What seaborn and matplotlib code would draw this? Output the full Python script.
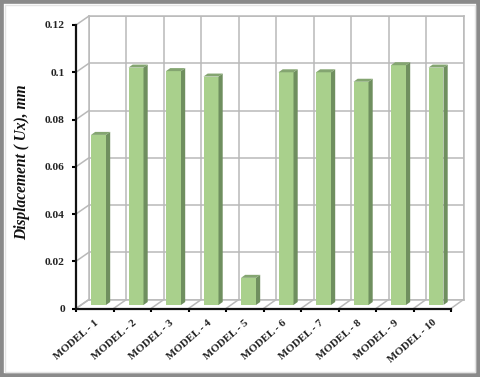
import matplotlib
matplotlib.use("Agg")
import matplotlib.pyplot as plt
from matplotlib.patches import Polygon, Rectangle
from matplotlib.lines import Line2D
from matplotlib.transforms import IdentityTransform
import seaborn as sns
import pandas as pd

models = ["MODEL - 1", "MODEL - 2", "MODEL - 3", "MODEL - 4", "MODEL - 5",
          "MODEL - 6", "MODEL - 7", "MODEL - 8", "MODEL - 9", "MODEL - 10"]
displacement = [0.072, 0.1005, 0.0990, 0.0967, 0.0115,
                0.0985, 0.0985, 0.0945, 0.1015, 0.1005]
y_ticks = [0, 0.02, 0.04, 0.06, 0.08, 0.1, 0.12]
y_labels = ["0", "0.02", "0.04", "0.06", "0.08", "0.1", "0.12"]
y_title = "Displacement ( Ux), mm"

W, H = 480, 377
sns.set_theme(style="white")
plt.rcParams["font.family"] = ["Liberation Serif", "DejaVu Serif"]
fig = plt.figure(figsize=(W / 100, H / 100), dpi=100, facecolor="white")

def axes_px(x0, x1, y_top, y_bot, **kw):
    return fig.add_axes([x0 / W, 1 - y_bot / H, (x1 - x0) / W, (y_bot - y_top) / H], **kw)

GRID = "#b9b9b9"
n = len(models)

# back wall
back = axes_px(89, 463.5, 16, 299.5, facecolor="none", zorder=1)
back.set_xlim(-0.5, n - 0.5)
back.set_ylim(0, 0.12)
back.set_xticks([i - 0.5 for i in range(n + 1)])
back.set_yticks(y_ticks)
back.grid(True, color=GRID, lw=1.1)
back.tick_params(length=0, labelbottom=False, labelleft=False)
for s in back.spines.values():
    s.set_color(GRID)
    s.set_linewidth(1.1)

# front axes: axis lines, ticks and labels
front = axes_px(76, 451, 25, 308.5, facecolor="none", zorder=2)
front.set_xlim(-0.5, n - 0.5)
front.set_ylim(0, 0.12)
front.set_yticks(y_ticks)
front.set_yticklabels(y_labels, fontsize=8.2, fontweight="bold", color="#222222")
front.set_xticks(range(n))
front.set_xticklabels(models, fontsize=7.9, fontweight="bold", color="#222222",
                      rotation=41, ha="right", rotation_mode="anchor")
front.set_xticks([i - 0.5 for i in range(n + 1)], minor=True)
front.tick_params(axis="x", which="major", length=0, pad=7)
front.tick_params(axis="x", which="minor", length=2, width=1.5, color="black", bottom=True)
front.tick_params(axis="y", length=3, width=1.5, color="black", pad=5, left=True)
front.spines["top"].set_visible(False)
front.spines["right"].set_visible(False)
for s in ("left", "bottom"):
    front.spines[s].set_linewidth(1.6)
    front.spines[s].set_color("#111111")
front.set_ylabel(y_title, fontsize=11.2, fontweight="bold", fontstyle="italic",
                 color="#111111", labelpad=8)
front.yaxis.set_label_coords(-0.122, 0.515)

# side wall and floor connecting front axes to the back wall
fig.canvas.draw()
def link(i_x, v):
    p0 = front.transData.transform((i_x, v))
    p1 = back.transData.transform((i_x, v))
    fig.add_artist(Line2D([p0[0], p1[0]], [p0[1], p1[1]], color=GRID, lw=1.1,
                          transform=IdentityTransform(), zorder=1.5))
for v in y_ticks:
    link(-0.5, v)
for i in range(n + 1):
    link(i - 0.5, 0)

# bars: front faces from seaborn, depth faces derived from each bar
bars = axes_px(79.75, 454.75, 21.5, 305, facecolor="none", zorder=3)
df = pd.DataFrame({"model": models, "displacement": displacement})
sns.barplot(data=df, x="model", y="displacement", color="#a9d08c", saturation=1,
            width=0.4, ax=bars, edgecolor="none")
bars.set_xlim(-0.5, n - 0.5)
bars.set_ylim(0, 0.12)
bars.axis("off")

DX, DY = 4.2, 3.0
for p in list(bars.patches):
    x0, y0 = p.get_x(), p.get_y()
    x1, y1 = x0 + p.get_width(), y0 + p.get_height()
    (a, b), (c, d) = bars.transData.transform([(x0, y0), (x1, y1)])
    bars.add_patch(Polygon([(c, b), (c + DX, b + DY), (c + DX, d + DY), (c, d)],
                           closed=True, fc="#6f8f5f", ec="none",
                           transform=IdentityTransform(), clip_on=False))
    bars.add_patch(Polygon([(a, d), (a + DX, d + DY), (c + DX, d + DY), (c, d)],
                           closed=True, fc="#84a571", ec="none",
                           transform=IdentityTransform(), clip_on=False))

# picture frame
fig.add_artist(Rectangle((0, 0), 1, 1, transform=fig.transFigure, fill=False,
                         ec="#8a8a8a", lw=5.5, zorder=10))
fig.add_artist(Rectangle((5 / W, 5 / H), 1 - 10 / W, 1 - 10 / H, transform=fig.transFigure,
                         fill=False, ec="#e4e4e4", lw=1.0, zorder=10))

fig.savefig("out.png", dpi=100)
